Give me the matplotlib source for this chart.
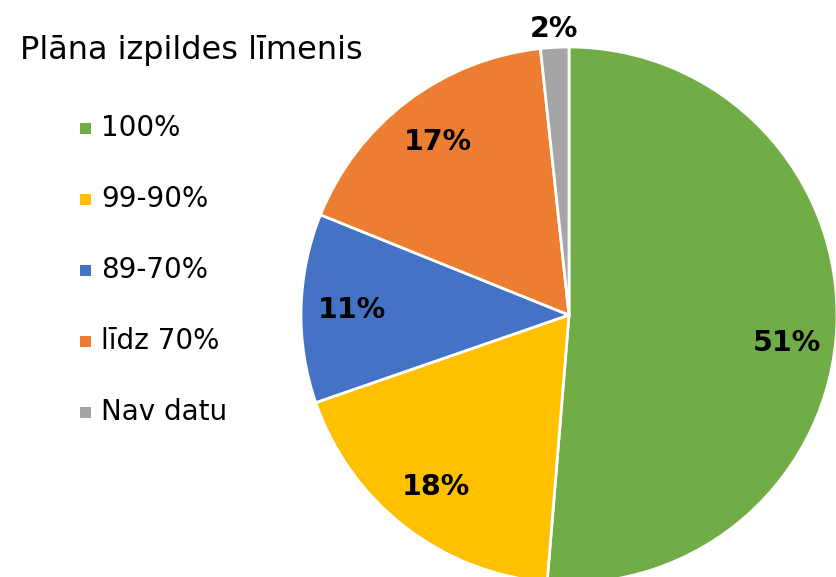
import numpy as np
import matplotlib
matplotlib.use("Agg")
import matplotlib.pyplot as plt
from matplotlib.patches import Rectangle

# Plāna izpildes līmenis (daļa, %)
categories = ["100%", "99-90%", "89-70%", "līdz 70%", "Nav datu"]
shares = [51.3, 18.4, 11.4, 17.2, 1.7]
colors = ["#70AD47", "#FFC000", "#4472C4", "#ED7D31", "#A5A5A5"]
title = "Plāna izpildes līmenis"

W, H = 836, 577
fig = plt.figure(figsize=(W / 100, H / 100), dpi=100)

# pie centre and radius in pixels
cx, cy, r = 569, 315, 268
ax = fig.add_axes([(cx - r) / W, 1 - (cy + r) / H, 2 * r / W, 2 * r / H])
wedges, texts, autotexts = ax.pie(
    shares, colors=colors, startangle=90, counterclock=False,
    autopct="%.0f%%", pctdistance=0.81,
    wedgeprops=dict(edgecolor="white", linewidth=2),
    textprops=dict(fontsize=20.5, fontweight="bold", color="black"),
)
ax.set_xlim(-1, 1)
ax.set_ylim(-1, 1)
ax.set_aspect("equal")
ax.axis("off")

# label placement tweaks (Excel puts them a bit differently)
x, y = autotexts[0].get_position()
autotexts[0].set_position((x + 0.005, y - 0.07))
# the small slice gets its label outside the pie
w = wedges[-1]
mid = np.deg2rad((w.theta1 + w.theta2) / 2)
autotexts[-1].set_position((1.07 * np.cos(mid), 1.07 * np.sin(mid)))

# legend drawn by hand
fig.text(20 / W, 1 - 50 / H, title, fontsize=23, ha="left", va="center")
for i, (cat, col) in enumerate(zip(categories, colors)):
    y = 128 + i * 71
    fig.patches.append(Rectangle((80 / W, 1 - (y + 5.5) / H), 11 / W, 11 / H,
                                 transform=fig.transFigure, facecolor=col,
                                 edgecolor="none"))
    fig.text(101 / W, 1 - y / H, cat, fontsize=20, ha="left", va="center")

fig.savefig("out.png", dpi=100)
